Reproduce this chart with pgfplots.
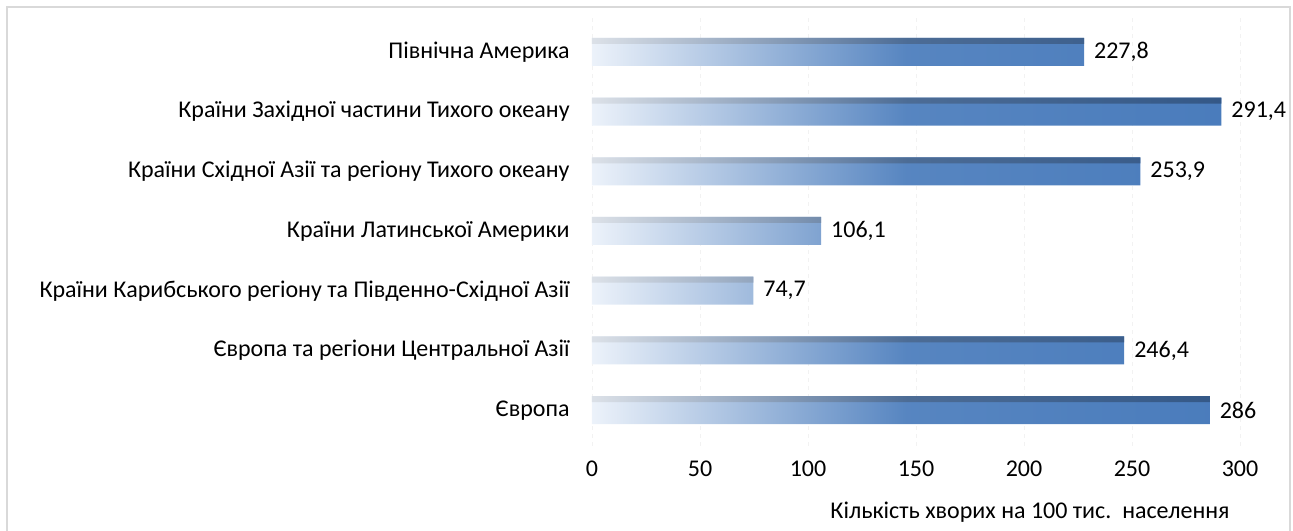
\documentclass[border=0pt]{standalone}
\usepackage{fontspec}
\setmainfont{Carlito}
\usepackage{pgfplots}
\pgfplotsset{compat=1.18}

\definecolor{barblue}{RGB}{74,124,188}
\definecolor{barlight}{RGB}{236,242,250}
\definecolor{bardark}{RGB}{52,88,135}
\definecolor{framegray}{RGB}{217,217,217}

\begin{document}
\begin{tikzpicture}[font=\fontsize{18}{21}\selectfont]
% 1 px of the reference = 0.75pt
\useasboundingbox (0,0) rectangle (969.75pt,398.25pt);
\draw[framegray, line width=1.5pt] (5.25pt,-8pt) -- (5.25pt,393pt) -- (967.5pt,393pt) -- (967.5pt,-8pt);
\begin{axis}[
    at={(444pt,63.75pt)}, anchor=south west,
    scale only axis, width=486pt, height=322.5pt,
    xbar, bar width=21pt,
    xmin=0, xmax=300, ymin=-0.6, ymax=6.6,
    xtick={0,50,...,300},
    ytick={0,...,6},
    yticklabels={Європа, Європа та регіони Центральної Азії, Країни Карибського регіону та Південно-Східної Азії, Країни Латинської Америки, Країни Східної Азії та регіону Тихого океану, Країни Західної частини Тихого океану, Північна Америка},
    axis x line*=bottom, axis y line*=left,
    axis line style={draw=none},
    tick style={draw=none},
    xmajorgrids, major x grid style={gray!10, dashed},
    yticklabel style={xshift=-9pt},
    xticklabel style={yshift=-8pt},
    /pgf/number format/assume math mode=true,
    /pgf/number format/use comma,
    /pgf/number format/1000 sep={},
    clip=false,
]
    \addplot[draw=none, bar shift=0pt, left color=barlight, right color=barblue, middle color=barblue!93!white,
        nodes near coords, nodes near coords align={horizontal},
        every node near coord/.append style={font=\fontsize{18}{21}\selectfont, anchor=west, xshift=4pt}]
        coordinates {(286,0) (246.4,1) (74.7,2) (106.1,3) (253.9,4) (291.4,5) (227.8,6)};
    \addplot[draw=none, bar width=4.5pt, bar shift=8.25pt, left color=barlight!85!gray, right color=bardark, middle color=bardark!88!white]
        coordinates {(286,0) (246.4,1) (74.7,2) (106.1,3) (253.9,4) (291.4,5) (227.8,6)};
\end{axis}
\node at (772.5pt,14.25pt) {Кількість хворих на 100 тис.\ \ населення};
\end{tikzpicture}
\end{document}
